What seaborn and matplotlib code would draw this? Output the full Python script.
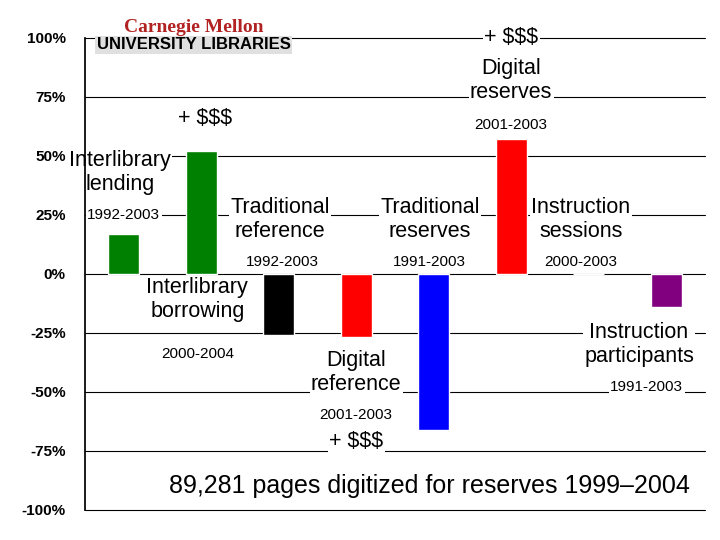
import matplotlib
matplotlib.use("Agg")
import matplotlib.pyplot as plt
import seaborn as sns
import pandas as pd

programs = ['Interlibrary lending', 'Interlibrary borrowing', 'Traditional reference',
            'Digital reference', 'Traditional reserves', 'Digital reserves',
            'Instruction sessions', 'Instruction participants']
change = [17, 52, -26, -27, -66, 57, 0, -14]
colors = ['#008000', '#008000', '#000000', '#ff0000', '#0000ff', '#ff0000', '#ffffff', '#800080']
yticks = [100, 75, 50, 25, 0, -25, -50, -75, -100]

sns.set_theme(style="white")
plt.rcParams['font.family'] = ['Liberation Sans', 'DejaVu Sans']
plt.rcParams['text.color'] = 'black'
plt.rcParams['ytick.color'] = 'black'

fig = plt.figure(figsize=(7.2, 5.4), dpi=100)
ax = fig.add_axes([0.118, 0.056, 0.861, 0.874])
df = pd.DataFrame({'program': programs, 'change': change})
sns.barplot(data=df, x='program', y='change', hue='program', palette=colors,
            saturation=1, width=0.4, legend=False, ax=ax, zorder=3)

ax.set_ylim(-100, 100)
ax.set_xlim(-0.5, 7.5)
ax.set_yticks(yticks)
ax.set_yticklabels([f'{t}%' for t in yticks], fontweight='bold', fontsize=11)
ax.set_xticks([])
ax.set_xlabel('')
ax.set_ylabel('')
for t in yticks:
    ax.axhline(t, color='black', lw=0.8, zorder=1, clip_on=False)
for s in ['top', 'right', 'bottom']:
    ax.spines[s].set_visible(False)
ax.spines['left'].set_color('black')
ax.tick_params(axis='y', length=0, pad=14)

box = dict(facecolor='white', edgecolor='none', pad=1)

def label(x, y, s, size=15.5):
    ax.text(x, y, s, ha='center', va='center', fontsize=size, bbox=box, zorder=2,
            linespacing=1.2, color='black')

label(-0.05, 43, 'Interlibrary\nlending')
label(0.0, 25, '1992-2003', 11)
label(0.95, -11, 'Interlibrary\nborrowing')
label(0.95, -34, '2000-2004', 11)
label(1.05, 66, '+ $$$')
label(2.02, 23, 'Traditional\nreference')
label(2.05, 5, '1992-2003', 11)
label(3.0, -42, 'Digital\nreference')
label(3.0, -60, '2001-2003', 11)
label(3.0, -71, '+ $$$')
label(3.95, 23, 'Traditional\nreserves')
label(3.95, 5, '1991-2003', 11)
label(5.0, 100, '+ $$$')
label(5.0, 82, 'Digital\nreserves')
label(5.0, 63, '2001-2003', 11)
label(5.9, 23, 'Instruction\nsessions')
label(5.9, 5, '2000-2003', 11)
label(6.65, -30, 'Instruction\nparticipants')
label(6.75, -48, '1991-2003', 11)

ax.text(3.95, -90, '89,281 pages digitized for reserves 1999\u20132004', ha='center', va='center',
        fontsize=18, bbox=box, zorder=5, color='black')

# library logo
ax.text(0.9, 104.5, 'Carnegie Mellon', ha='center', va='center', fontsize=14,
        color='#b22222', family='Liberation Serif', fontweight='bold', bbox=box, zorder=5)
ax.text(0.9, 97, 'UNIVERSITY LIBRARIES', ha='center', va='center', fontsize=12,
        fontweight='bold', color='black', bbox=dict(facecolor='#e0e0e0', edgecolor='none', pad=1), zorder=5)

fig.savefig('out.png', dpi=100)
